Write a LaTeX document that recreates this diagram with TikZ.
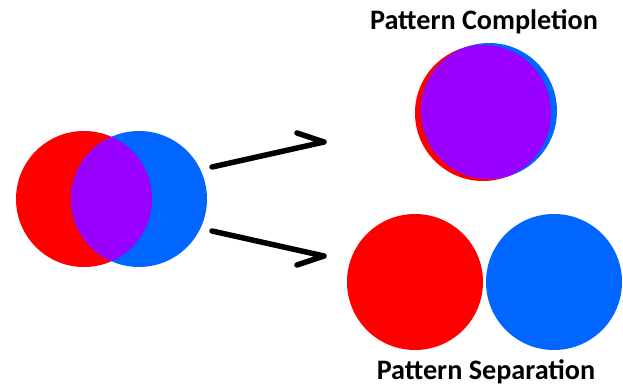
\documentclass[tikz,border=0pt]{standalone}
\usepackage{fontspec}
\setmainfont{Carlito}
\definecolor{setred}{RGB}{255,0,0}
\definecolor{setblue}{RGB}{0,102,255}
\definecolor{setpurple}{RGB}{153,0,255}
\begin{document}
\begin{tikzpicture}[x=1pt,y=-1pt,
  disc/.style={circle,inner sep=0pt,minimum size=136pt},
  harpoon/.style={line width=5.5pt,line cap=round,line join=round,black},
  caption/.style={font=\bfseries\fontsize{28.2}{28.2}\selectfont,anchor=base}]
\useasboundingbox (0,0) rectangle (623,385);

% overlapping pair
\node[disc,fill=setred] (lr) at (84,199) {};
\node[disc,fill=setblue] (lb) at (139,199) {};
\begin{scope}
  \clip (84,199) circle (68);
  \fill[setpurple] (139,199) circle (68);
\end{scope}

% nearly coincident pair
\node[disc,fill=setred] (cr) at (483,113) {};
\node[disc,fill=setblue] (cb) at (489,111) {};
\begin{scope}
  \clip (483,113) circle (68);
  \fill[setpurple] (489,111) circle (68);
\end{scope}

% separated pair
\node[disc,fill=setred] (sr) at (415,282) {};
\node[disc,fill=setblue] (sb) at (554,282) {};

% arrows
\coordinate (u0) at (212,167);
\coordinate (u1) at (324,142);
\coordinate (u2) at (297,133);
\coordinate (d0) at (212,231);
\coordinate (d1) at (324,256);
\coordinate (d2) at (297,265);
\draw[harpoon] (u0) -- (u1) -- (u2);
\draw[harpoon] (d0) -- (d1) -- (d2);

% captions
\node[caption] (tc) at (484,30) {Pattern Completion};
\node[caption] (ts) at (486,379) {Pattern Separation};
\end{tikzpicture}
\end{document}
